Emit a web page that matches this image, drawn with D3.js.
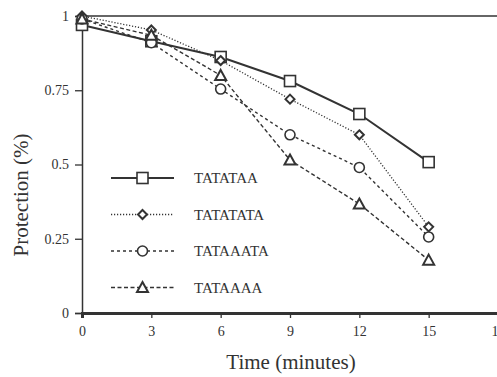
<!DOCTYPE html>
<html>
<head>
<meta charset="utf-8">
<script src="https://cdn.jsdelivr.net/npm/d3@7"></script>
<style>
  body { margin: 0; background: #fff; }
  svg { display: block; font-family: "Liberation Serif", "Times New Roman", serif; }
  .tick text { font-family: "Liberation Serif", serif; font-size: 14px; }
</style>
</head>
<body>
<svg id="chart" width="497" height="377"></svg>
<script>
// data
const times = [0, 3, 6, 9, 12, 15];
const xTicks = [0, 3, 6, 9, 12, 15, 18];
const yTicks = [0, 0.25, 0.5, 0.75, 1];

const tatataa   = [0.97, 0.915, 0.862, 0.781, 0.67, 0.508];
const tatatata  = [1.0, 0.953, 0.85, 0.72, 0.60, 0.29];
const tataaata  = [0.99, 0.91, 0.754, 0.60, 0.49, 0.256];
const tataaaa   = [0.99, 0.935, 0.80, 0.515, 0.367, 0.178];

const seriesNames = ["TATATAA", "TATATATA", "TATAAATA", "TATAAAA"];
const seriesValues = [tatataa, tatatata, tataaata, tataaaa];

const ink = "#333";
const styles = [
  { dash: null,  width: 2,   marker: "square" },
  { dash: "1.2,1.8", width: 1.3, marker: "diamond" },
  { dash: "3,3", width: 1.4, marker: "circle" },
  { dash: "4,2.5", width: 1.4, marker: "triangle" }
];

const svg = d3.select("#chart");

const x = d3.scaleLinear().domain([0, 18]).range([82, 498]);
const y = d3.scaleLinear().domain([0, 1]).range([313, 16]);

// axes
const xAxis = d3.axisBottom(x).tickValues(xTicks).tickSize(5).tickPadding(8).tickFormat(d3.format("d"));
const yAxis = d3.axisLeft(y).tickValues(yTicks).tickSize(7).tickPadding(6).tickFormat(d => String(d));

const gx = svg.append("g").attr("transform", `translate(0,${y(0)})`).call(xAxis);
const gy = svg.append("g").attr("transform", `translate(${x(0)},0)`).call(yAxis);

[gx, gy].forEach(g => {
  g.attr("font-family", null).attr("font-size", null);
  g.select(".domain").attr("stroke", ink);
  g.selectAll(".tick line").attr("stroke", ink).attr("stroke-width", 1.3);
  g.selectAll(".tick text").attr("fill", ink);
});
gx.select(".domain").attr("stroke-width", 3);
gy.select(".domain").attr("stroke-width", 1.5);

// top frame line
svg.append("line")
  .attr("x1", x(0)).attr("x2", 497)
  .attr("y1", y(1)).attr("y2", y(1))
  .attr("stroke", ink).attr("stroke-width", 1.5);

// lines
const line = d3.line().x((d, i) => x(times[i])).y(d => y(d));

seriesValues.forEach((vals, k) => {
  const st = styles[k];
  svg.append("path")
    .datum(vals)
    .attr("fill", "none")
    .attr("stroke", ink)
    .attr("stroke-width", st.width)
    .attr("stroke-dasharray", st.dash)
    .attr("d", line);
});

function drawMarker(g, type, cx, cy) {
  if (type === "square") {
    g.append("rect").attr("x", cx - 5.5).attr("y", cy - 5.5).attr("width", 11).attr("height", 11)
      .attr("fill", "#fff").attr("stroke", ink).attr("stroke-width", 1.6);
  } else if (type === "diamond") {
    g.append("path").attr("d", `M${cx},${cy - 4.5}L${cx + 4.5},${cy}L${cx},${cy + 4.5}L${cx - 4.5},${cy}Z`)
      .attr("fill", "#fff").attr("stroke", ink).attr("stroke-width", 2);
  } else if (type === "circle") {
    g.append("circle").attr("cx", cx).attr("cy", cy).attr("r", 5)
      .attr("fill", "#fff").attr("stroke", ink).attr("stroke-width", 1.6);
  } else {
    g.append("path").attr("d", `M${cx},${cy - 5.5}L${cx + 5.5},${cy + 4.5}L${cx - 5.5},${cy + 4.5}Z`)
      .attr("fill", "#fff").attr("stroke", ink).attr("stroke-width", 2);
  }
}

// markers
seriesValues.forEach((vals, k) => {
  const g = svg.append("g");
  vals.forEach((v, i) => drawMarker(g, styles[k].marker, x(times[i]), y(v)));
});

// legend
const legend = svg.append("g");
seriesNames.forEach((name, k) => {
  const ly = 178 + k * 36.5;
  const st = styles[k];
  legend.append("line")
    .attr("x1", 111).attr("x2", 174).attr("y1", ly).attr("y2", ly)
    .attr("stroke", ink).attr("stroke-width", st.width)
    .attr("stroke-dasharray", st.dash);
  drawMarker(legend, st.marker, 142.5, ly);
  legend.append("text")
    .attr("x", 194).attr("y", ly + 5)
    .attr("fill", ink)
    .style("font-size", "15px")
    .text(name);
});

// axis titles
svg.append("text")
  .attr("x", 291).attr("y", 369)
  .attr("text-anchor", "middle")
  .attr("fill", ink)
  .style("font-size", "21px")
  .text("Time (minutes)");

svg.append("text")
  .attr("transform", "translate(28,195) rotate(-90)")
  .attr("text-anchor", "middle")
  .attr("fill", ink)
  .style("font-size", "21px")
  .text("Protection (%)");
</script>
</body>
</html>
